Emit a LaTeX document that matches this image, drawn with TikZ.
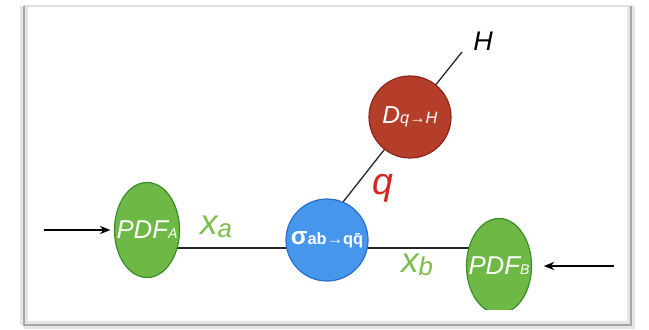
\documentclass[tikz,border=0pt]{standalone}
\usepackage{fontspec}
\setmainfont{Liberation Sans}
\usetikzlibrary{shapes.geometric,arrows.meta,backgrounds}
\definecolor{pdfgreen}{RGB}{110,185,70}
\definecolor{pdfedge}{RGB}{55,140,40}
\definecolor{sigblue}{RGB}{70,150,235}
\definecolor{sigedge}{RGB}{40,110,205}
\definecolor{fragred}{RGB}{180,62,42}
\definecolor{fragedge}{RGB}{140,35,25}
\definecolor{lblgreen}{RGB}{125,190,75}
\definecolor{qred}{RGB}{215,35,35}
\newcommand\sublbl[2][10]{{\fontsize{#1}{#1}\selectfont #2}}
\begin{document}
\begin{tikzpicture}[x=0.03cm,y=-0.03cm,
    pdfnode/.style={ellipse,draw=pdfedge,fill=pdfgreen,line width=1pt,minimum width=1.95cm,minimum height=2.85cm,inner sep=0pt,text=white,font=\itshape\fontsize{22}{22}\selectfont},
    blob/.style={circle,line width=1pt,minimum size=2.46cm,inner sep=0pt,text=white},
    varlbl/.style={text=lblgreen,font=\itshape\fontsize{30}{30}\selectfont,inner sep=0pt},
    link/.style={line width=1.1pt,black!85},
    feed/.style={line width=1.2pt,-{Stealth[length=9pt,width=7pt]}}]
    \begin{pgfonlayer}{background}
        \fill[white] (0,0) rectangle (649,329);
        \draw[black!10,line width=6pt] (24,325) -- (631,325) -- (631,6);
        \draw[black!10,line width=6pt] (24,6) -- (24,325);
        \draw[black!12,line width=1pt] (24,6) -- (631,6);
        \draw[black!35,line width=2.5pt] (24,6) -- (24,325) -- (631,325) -- (631,6);
    \end{pgfonlayer}
    \node[pdfnode] (pdfa) at (147,230) {\makebox[0pt]{PDF\sublbl[12]{A}}};
    \node[blob,fill=sigblue,draw=sigedge] (sig) at (327,240) {{\bfseries\fontsize{21}{21}\selectfont σ}\sublbl[14]{\bfseries ab→q\=q}};
    \node[blob,fill=fragred,draw=fragedge,font=\itshape\fontsize{21}{21}\selectfont] (frag) at (410,117) {D\sublbl[14]{q→H}};
    \begin{scope}
        \clip (440,200) rectangle (560,309);
        \node[pdfnode] (pdfb) at (499,266) {\makebox[0pt]{PDF\sublbl[12]{B}}};
    \end{scope}
    \node[font=\itshape\fontsize{23}{23}\selectfont,inner sep=0pt] (had) at (483,41) {H};
    \coordinate (hend) at (462,52);
    \coordinate (ina) at (44,230);
    \coordinate (inb) at (614,266);
    \node[varlbl] (xa) at (216,227) {x\raisebox{-2pt}{\sublbl[22]{a}}};
    \node[varlbl] (xb) at (417,265) {x\raisebox{-2pt}{\sublbl[22]{b}}};
    \node[text=qred,font=\itshape\fontsize{32}{32}\selectfont,inner sep=0pt] (qlbl) at (383,188) {q};
    \begin{pgfonlayer}{background}
        \draw[link] (pdfa.center |- 0,248) -- (pdfb.center |- 0,248);
    \end{pgfonlayer}
    \draw[link] (sig.67) -- (frag) -- (hend);
    \draw[feed,shorten >=3pt] (ina) -- (pdfa.west);
    \draw[feed,shorten >=10pt] (inb) -- (pdfb.east);
\end{tikzpicture}
\end{document}
